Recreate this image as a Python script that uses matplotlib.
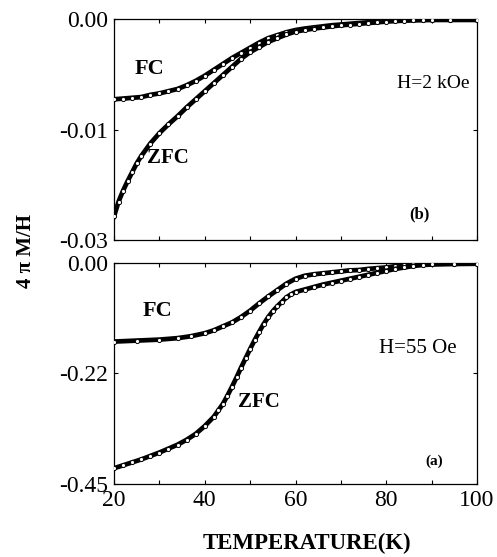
import numpy as np
import matplotlib
matplotlib.use("Agg")
import matplotlib.pyplot as plt

plt.rcParams['font.family'] = ['Liberation Serif', 'DejaVu Serif']

# (b) H = 2 kOe
t_fc_b = [20, 22, 24, 26, 28, 30, 32, 34, 36, 38, 40, 42, 44, 46, 48, 50, 52, 54, 56, 58,
          60, 62, 64, 66, 68, 70, 72, 74, 76, 78, 80, 82, 84, 86, 88, 90, 94, 100]
m_fc_b = [-0.0109, -0.0108, -0.0107, -0.0106, -0.0103, -0.0101, -0.0098, -0.0095, -0.0090,
          -0.0084, -0.0077, -0.0069, -0.0061, -0.0053, -0.0046, -0.0039, -0.0032, -0.0026,
          -0.0022, -0.0018, -0.0015, -0.0013, -0.00115, -0.0010, -0.00085, -0.00075,
          -0.00065, -0.00055, -0.00045, -0.00035, -0.00025, -0.0002, -0.00015, -0.00012,
          -0.0001, -0.0001, -0.0001, -0.0001]
t_zfc_b = [20, 21, 22, 23, 24, 25, 26, 28, 30, 32, 34, 36, 38, 40, 42, 44, 46, 48, 50, 52,
           54, 56, 58, 60, 62, 64, 66, 68, 70, 72, 74, 76, 78, 80, 82, 84, 86, 88, 90, 94, 100]
m_zfc_b = [-0.0268, -0.0248, -0.0233, -0.0220, -0.0208, -0.0196, -0.0186, -0.0169, -0.0155,
           -0.0143, -0.0132, -0.0120, -0.0109, -0.0098, -0.0087, -0.0076, -0.0065, -0.0054,
           -0.0045, -0.0038, -0.0031, -0.0026, -0.0021, -0.0017, -0.0015, -0.0013, -0.00115,
           -0.0010, -0.00085, -0.00075, -0.00065, -0.00055, -0.00045, -0.00035, -0.00028,
           -0.00022, -0.00018, -0.00015, -0.00012, -0.00012, -0.00012]

# (a) H = 55 Oe
t_fc_a = [20, 25, 30, 34, 37, 40, 42, 44, 46, 48, 50, 52, 54, 56, 58, 60, 62, 64, 66, 68,
          70, 72, 74, 76, 78, 80, 82, 84, 86, 88, 90, 95, 100]
m_fc_a = [-0.160, -0.158, -0.156, -0.153, -0.149, -0.143, -0.137, -0.129, -0.121, -0.110,
          -0.097, -0.082, -0.068, -0.055, -0.042, -0.032, -0.026, -0.023, -0.021, -0.019,
          -0.017, -0.015, -0.0143, -0.012, -0.0105, -0.009, -0.0065, -0.004, -0.0025,
          -0.002, -0.0015, -0.0012, -0.001]
t_zfc_a = [20, 22, 24, 26, 28, 30, 32, 34, 36, 38, 40, 42, 43, 44, 45, 46, 47, 48, 49, 50,
           51, 52, 53, 54, 55, 56, 57, 58, 59, 60, 62, 64, 66, 68, 70, 72, 74, 76, 78, 80,
           82, 84, 86, 88, 90, 95, 100]
m_zfc_a = [-0.418, -0.412, -0.406, -0.400, -0.393, -0.386, -0.378, -0.370, -0.360, -0.348,
           -0.332, -0.313, -0.300, -0.287, -0.270, -0.252, -0.233, -0.213, -0.194, -0.175,
           -0.157, -0.140, -0.124, -0.110, -0.098, -0.088, -0.079, -0.070, -0.064, -0.059,
           -0.054, -0.049, -0.044, -0.040, -0.036, -0.032, -0.028, -0.024, -0.020, -0.016,
           -0.012, -0.009, -0.006, -0.004, -0.003, -0.002, -0.0015]

x_ticks = [20, 40, 60, 80, 100]
yticks_b = [-0.03, -0.015, 0.0]
ylabels_b = ['-0.03', '-0.01', '0.00']
yticks_a = [-0.45, -0.225, 0.0]
ylabels_a = ['-0.45', '-0.22', '0.00']

fig = plt.figure(figsize=(4.97, 5.57), dpi=100)
ax_b = fig.add_axes([0.2294, 0.5691, 0.7304, 0.3968])
ax_a = fig.add_axes([0.2294, 0.1311, 0.7304, 0.3967])


def draw_curve(ax, t, m):
    ax.plot(t, m, color='black', lw=3.4, marker='o', ms=3.0, mfc='white',
            mec='black', mew=0.7, zorder=3)


def style_axes(ax, yticks, ylabels, show_x):
    ax.set_xlim(20, 100)
    ax.set_xticks(x_ticks)
    ax.set_xticks([30, 50, 70, 90], minor=True)
    ax.set_yticks(yticks)
    ax.set_yticklabels(ylabels)
    ax.set_ylim(yticks[0], yticks[-1])
    ax.tick_params(which='both', direction='in', top=True, right=True,
                   length=3, width=0.8, labelsize=17, pad=4)
    if not show_x:
        ax.set_xticklabels([])
    for s in ax.spines.values():
        s.set_linewidth(0.9)


draw_curve(ax_b, t_fc_b, m_fc_b)
draw_curve(ax_b, t_zfc_b, m_zfc_b)
style_axes(ax_b, yticks_b, ylabels_b, False)
ax_b.text(27.9, -0.0068, 'FC', fontsize=16, fontweight='bold', ha='center', va='center')
ax_b.text(31.9, -0.0189, 'ZFC', fontsize=15, fontweight='bold', ha='center', va='center')
ax_b.text(98.3, -0.0087, 'H=2 kOe', fontsize=14, ha='right', va='center')
ax_b.text(87.4, -0.0265, '(b)', fontsize=12, fontweight='bold', ha='center', va='center')

draw_curve(ax_a, t_fc_a, m_fc_a)
draw_curve(ax_a, t_zfc_a, m_zfc_a)
style_axes(ax_a, yticks_a, ylabels_a, True)
ax_a.text(29.5, -0.098, 'FC', fontsize=16, fontweight='bold', ha='center', va='center')
ax_a.text(52.0, -0.284, 'ZFC', fontsize=15, fontweight='bold', ha='center', va='center')
ax_a.text(87.0, -0.174, 'H=55 Oe', fontsize=15, ha='center', va='center')
ax_a.text(90.5, -0.403, '(a)', fontsize=11, fontweight='bold', ha='center', va='center')

fig.text(0.618, 0.025, 'TEMPERATURE(K)', fontsize=16.5, fontweight='bold', ha='center', va='center')
fig.text(0.052, 0.549, '4 π M/H', fontsize=15, fontweight='bold', rotation=90,
         ha='center', va='center')

fig.savefig('out.png', dpi=100)
